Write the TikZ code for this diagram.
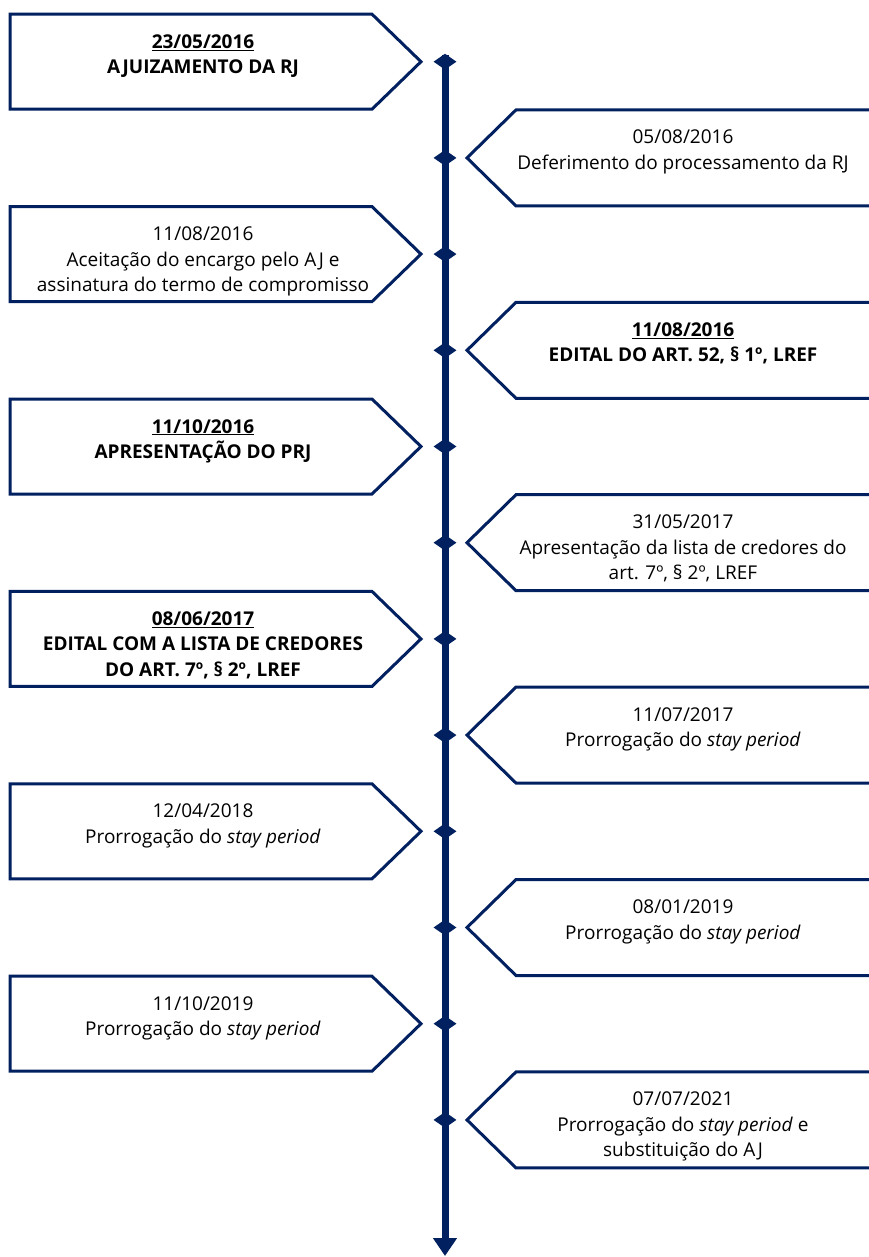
\documentclass[tikz,border=0pt]{standalone}
\usepackage{fontspec}
\setmainfont{Open Sans}
\usetikzlibrary{arrows.meta,shapes.geometric}
\definecolor{navy}{RGB}{0,32,96}
\begin{document}
\begin{tikzpicture}[x=1pt,y=-1pt,
  box/.style={draw=navy, line width=3pt, line join=miter, fill=white},
  lbl/.style={anchor=base, align=center, inner sep=0pt, text=black,
    font=\fontsize{19}{25.5}\selectfont},
  evt/.style={diamond, fill=navy, minimum width=23pt, minimum height=16pt, inner sep=0pt},
  axis/.style={draw=navy, line width=7pt, -{Triangle[width=23pt,length=18pt]}}
]
\useasboundingbox (0,0) rectangle (869,1257);
\clip (0,0) rectangle (869,1257);
% boxes
\foreach \i in {0,2,4,6,8,10}{
  \pgfmathsetmacro\cy{61.7+96.2*\i}
  \draw[box] (10,\cy-47.5) -- (372,\cy-47.5) -- (421,\cy) -- (372,\cy+47.5) -- (10,\cy+47.5) -- cycle;
}
\foreach \i in {1,3,5,7,9,11}{
  \pgfmathsetmacro\cy{61.7+96.2*\i}
  \draw[box] (885,\cy-48) -- (516,\cy-48) -- (467,\cy) -- (516,\cy+48) -- (885,\cy+48) -- cycle;
}
% timeline
\coordinate (tltop) at (445,55);
\coordinate (tlbot) at (445,1256);
\draw[axis] (tltop) -- (tlbot);
\foreach \i in {0,...,11}{
  \pgfmathsetmacro\cy{61.7+96.2*\i}
  \node[evt] (d\i) at (445,\cy) {};
}
% labels (anchor = baseline of the last line)
\node[lbl] (t0) at (203,73.7) {\underline{\textbf{23/05/2016}}\\\textbf{AJUIZAMENTO DA RJ}};
\node[lbl] (t1) at (683,169.4) {05/08/2016\\Deferimento do processamento da RJ};
\node[lbl] (t2) at (203,291.6) {11/08/2016\\Aceitação do encargo pelo AJ e\\assinatura do termo de compromisso};
\node[lbl] (t3) at (683,361.8) {\underline{\textbf{11/08/2016}}\\\textbf{EDITAL DO ART. 52, § 1º, LREF}};
\node[lbl] (t4) at (203,458.5) {\underline{\textbf{11/10/2016}}\\\textbf{APRESENTAÇÃO DO PRJ}};
\node[lbl] (t5) at (683,579.7) {31/05/2017\\Apresentação da lista de credores do\\art. 7º, § 2º, LREF};
\node[lbl] (t6) at (203,676.4) {\underline{\textbf{08/06/2017}}\\\textbf{EDITAL COM A LISTA DE CREDORES}\\\textbf{DO ART. 7º, § 2º, LREF}};
\node[lbl] (t7) at (683,746.6) {11/07/2017\\Prorrogação do \textit{stay period}};
\node[lbl] (t8) at (203,843.3) {12/04/2018\\Prorrogação do \textit{stay period}};
\node[lbl] (t9) at (683,939.0) {08/01/2019\\Prorrogação do \textit{stay period}};
\node[lbl] (t10) at (203,1035.7) {11/10/2019\\Prorrogação do \textit{stay period}};
\node[lbl] (t11) at (683,1156.9) {07/07/2021\\Prorrogação do \textit{stay period} e\\substituição do AJ};
\end{tikzpicture}
\end{document}
